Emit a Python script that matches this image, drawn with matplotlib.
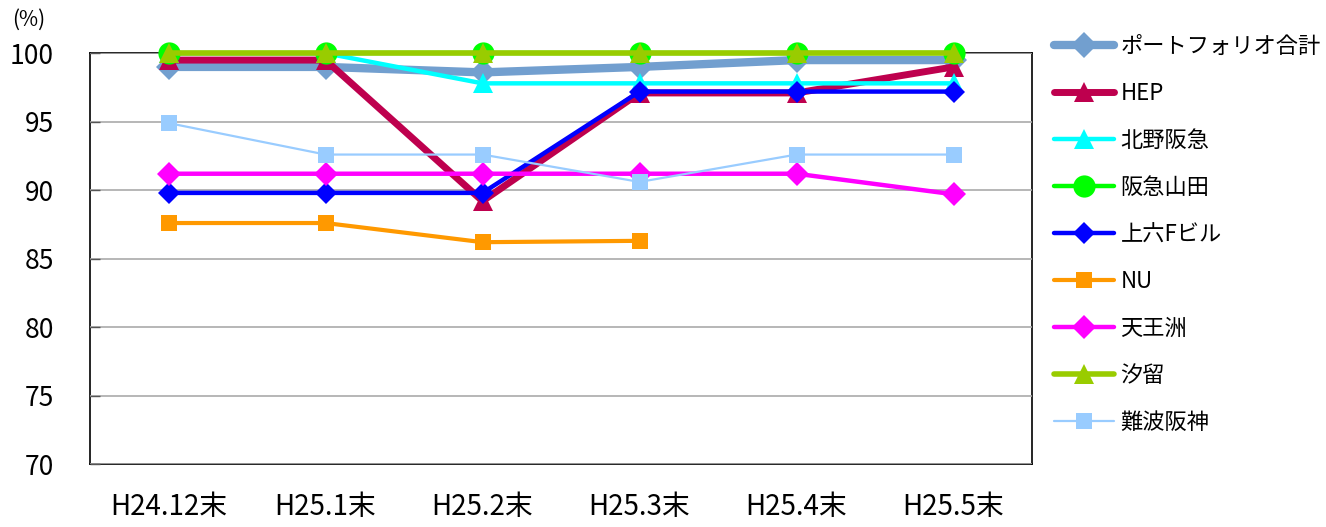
import matplotlib
matplotlib.use("Agg")
import matplotlib.pyplot as plt

plt.rcParams['font.family'] = ['Noto Sans CJK JP', 'DejaVu Sans']

categories = ["H24.12末", "H25.1末", "H25.2末", "H25.3末", "H25.4末", "H25.5末"]

portfolio = [99.0, 99.0, 98.6, 99.0, 99.5, 99.5]
hep = [99.5, 99.5, 89.2, 97.1, 97.1, 99.0]
kitano_hankyu = [100.0, 100.0, 97.8, 97.8, 97.8, 97.8]
hankyu_yamada = [100.0, 100.0, 100.0, 100.0, 100.0, 100.0]
uehonmachi_f = [89.8, 89.8, 89.8, 97.2, 97.2, 97.2]
nu = [87.6, 87.6, 86.2, 86.3, None, None]
tennozu = [91.2, 91.2, 91.2, 91.2, 91.2, 89.7]
shiodome = [100.0, 100.0, 100.0, 100.0, 100.0, 100.0]
namba_hanshin = [94.9, 92.6, 92.6, 90.6, 92.6, 92.6]

yticks = [70, 75, 80, 85, 90, 95, 100]

series = [
    ("ポートフォリオ合計", portfolio, "#729FCF", 6.0, "D", 13),
    ("HEP", hep, "#BE004E", 5.0, "^", 15),
    ("北野阪急", kitano_hankyu, "#00FFFF", 3.2, "^", 14),
    ("阪急山田", hankyu_yamada, "#00FF00", 3.2, "o", 16),
    ("上六Fビル", uehonmachi_f, "#0000FF", 3.2, "D", 11),
    ("NU", nu, "#FF9900", 3.0, "s", 11),
    ("天王洲", tennozu, "#FF00FF", 3.2, "D", 12),
    ("汐留", shiodome, "#99CC00", 4.0, "^", 14),
    ("難波阪神", namba_hanshin, "#99CCFF", 1.6, "s", 11),
]

fig = plt.figure(figsize=(13.26, 5.27), dpi=100)
ax = fig.add_axes([0.0679, 0.1195, 0.7104, 0.7795])

x = list(range(len(categories)))
for label, vals, color, lw, marker, ms in series:
    xs = [xi for xi, v in zip(x, vals) if v is not None]
    ys = [v for v in vals if v is not None]
    ax.plot(xs, ys, color=color, linewidth=lw, marker=marker, markersize=ms,
            markeredgewidth=0, label=label, solid_capstyle='round',
            solid_joinstyle='round', clip_on=False)

ax.set_xlim(-0.5, len(categories) - 0.5)
ax.set_ylim(70, 100)
ax.set_yticks(yticks)
ax.set_yticklabels([str(t) for t in yticks], fontsize=19)
ax.set_xticks(x)
ax.set_xticklabels(categories, fontsize=20)
ax.tick_params(axis='x', length=0, pad=20)
ax.tick_params(axis='y', direction='in', length=7, width=1, color='#555555', pad=26)
ax.yaxis.grid(True, color='#AAAAAA', linewidth=1.2)
ax.set_axisbelow(True)
for sp in ax.spines.values():
    sp.set_color('black')
    sp.set_linewidth(1.2)
    sp.set_zorder(0.5)

fig.text(0.009, 0.962, "(%)", fontsize=15, ha='left', va='center')

leg = fig.legend(loc='upper left', bbox_to_anchor=(0.788, 0.95), frameon=False,
                 fontsize=16, handlelength=2.7, handletextpad=0.3,
                 labelspacing=1.08, borderaxespad=0)

fig.savefig("out.png", dpi=100)
